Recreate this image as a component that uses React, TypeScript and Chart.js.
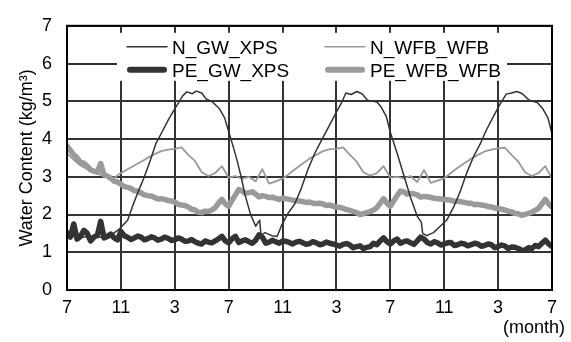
import React, { useEffect, useRef } from "react";
import { Chart, registerables } from "chart.js";

Chart.register(...registerables);

const FONT = "'Liberation Sans', Arial, Helvetica, sans-serif";

// x axis: months elapsed since the first July (0..36), ticks every 4 months
const xMin = 0;
const xMax = 36;
const tickStep = 4;
const firstMonth = 7;
const yMin = 0;
const yMax = 7;

const seriesNames = ["N_GW_XPS", "N_WFB_WFB", "PE_GW_XPS", "PE_WFB_WFB"];

// sample times (months elapsed)
const halfMonths = Array.from({ length: 73 }, (_, i) => i * 0.5);
const quarterMonths = Array.from({ length: 145 }, (_, i) => i * 0.25);

// N_GW_XPS (thin dark line), read at irregular times
const nGwXpsMonths = [
  0, 1, 2, 3, 3.9, 4.5, 4.9, 5.3, 5.7, 6.2, 6.6, 7.1, 7.6, 8.1, 8.6, 8.9, 9.3, 9.6, 10.0, 10.3,
  10.8, 11.3, 11.7, 12.0, 12.4, 12.6, 12.9, 13.2, 13.6, 14.0, 14.3, 14.4, 14.7, 15.2, 15.6, 15.9,
  16.4, 16.9, 17.4, 17.9, 18.4, 18.9, 19.4, 19.9, 20.4, 20.7, 21.1, 21.5, 21.9, 22.3, 23.0, 23.3,
  23.7, 24.0, 24.5, 25.0, 25.5, 26.0, 26.3, 26.4, 26.7, 27.2, 27.7, 28.2, 28.7, 29.2, 29.7, 30.2,
  30.7, 31.1, 31.6, 32.1, 32.6, 33.0, 33.4, 33.8, 34.3, 34.9, 35.3, 35.7, 36.0,
];
const nGwXps = [
  1.45, 1.4, 1.42, 1.38, 1.62, 1.85, 2.25, 2.62, 2.96, 3.45, 3.88, 4.22, 4.56, 4.86, 5.15, 5.25, 5.2, 5.27, 5.22, 5.07,
  4.98, 4.81, 4.56, 4.2, 3.72, 3.46, 3.04, 2.54, 2.03, 1.69, 1.85, 1.45, 1.52, 1.44, 1.42, 1.69,
  2.03, 2.28, 2.7, 3.21, 3.63, 3.97, 4.31, 4.65, 4.98, 5.22, 5.18, 5.26, 5.2, 5.03, 4.98, 4.86,
  4.6, 4.18, 3.63, 3.04, 2.45, 1.95, 1.8, 1.5, 1.44, 1.52, 1.69, 1.86, 2.2, 2.62, 3.13, 3.55,
  3.89, 4.22, 4.56, 4.9, 5.19, 5.22, 5.26, 5.2, 5.03, 4.97, 4.81, 4.56, 4.14,
];

// N_WFB_WFB (thin grey line), every half month
const nWfbWfb = [
  3.62, 3.45, 3.3, 3.2, 3.12, 3.05, 2.98, 2.97, 3.1, 3.2, 3.3, 3.4, 3.5, 3.6, 3.68, 3.72, 3.74, 3.78, 3.58, 3.42, 3.12, 3.02, 3.1, 3.28, 2.98,
  3.02, 2.95, 3.0, 2.88, 3.2, 2.82, 2.88, 2.95, 3.08, 3.22, 3.35, 3.48, 3.58, 3.68, 3.73, 3.74, 3.78, 3.58, 3.4, 3.12, 3.03, 3.1, 3.28, 2.98,
  3.0, 2.96, 3.02, 2.86, 3.18, 2.84, 2.9, 2.96, 3.1, 3.24, 3.36, 3.48, 3.58, 3.67, 3.72, 3.75, 3.77, 3.58, 3.4, 3.12, 3.02, 3.1, 3.28, 2.95,
];

// PE_GW_XPS (thick dark line), every quarter month
const peGwXps = [
  1.52, 1.4, 1.75, 1.35, 1.42, 1.58, 1.5, 1.3, 1.4, 1.45, 1.82, 1.38, 1.42, 1.48, 1.38, 1.33, 1.55, 1.44, 1.4, 1.34, 1.38, 1.43, 1.4, 1.33, 1.36,
  1.41, 1.38, 1.32, 1.35, 1.4, 1.37, 1.31, 1.33, 1.38, 1.35, 1.29, 1.3, 1.34, 1.28, 1.24, 1.22, 1.3, 1.27, 1.25, 1.3, 1.36, 1.42, 1.3, 1.25,
  1.36, 1.42, 1.26, 1.3, 1.33, 1.28, 1.24, 1.32, 1.46, 1.4, 1.24, 1.27, 1.32, 1.28, 1.24, 1.3, 1.29, 1.26, 1.22, 1.27, 1.29, 1.25, 1.21, 1.23,
  1.28, 1.25, 1.2, 1.22, 1.27, 1.24, 1.22, 1.19, 1.16, 1.21, 1.23, 1.19, 1.12, 1.15, 1.17, 1.1, 1.13, 1.15, 1.24, 1.2, 1.3, 1.38, 1.28, 1.22,
  1.3, 1.35, 1.24, 1.28, 1.3, 1.25, 1.21, 1.3, 1.4, 1.35, 1.26, 1.22, 1.28, 1.25, 1.19, 1.22, 1.25, 1.26, 1.18, 1.2, 1.24, 1.22, 1.17, 1.2,
  1.24, 1.22, 1.16, 1.18, 1.22, 1.2, 1.12, 1.15, 1.19, 1.17, 1.1, 1.14, 1.13, 1.1, 1.05, 1.06, 1.12, 1.1, 1.18, 1.15, 1.24, 1.32, 1.22, 1.15,
];

// PE_WFB_WFB (thick grey line), every quarter month
const peWfbWfb = [
  3.82, 3.7, 3.58, 3.5, 3.38, 3.36, 3.28, 3.18, 3.15, 3.12, 3.35, 3.05, 3.02, 2.96, 2.88, 2.86, 2.8, 2.74, 2.72, 2.69, 2.63, 2.62, 2.57, 2.52, 2.5,
  2.49, 2.45, 2.41, 2.42, 2.4, 2.37, 2.36, 2.33, 2.27, 2.25, 2.24, 2.2, 2.14, 2.12, 2.06, 2.05, 2.09, 2.08, 2.12, 2.18, 2.3, 2.4, 2.28, 2.22,
  2.38, 2.52, 2.66, 2.62, 2.56, 2.58, 2.6, 2.54, 2.47, 2.5, 2.48, 2.45, 2.46, 2.43, 2.4, 2.44, 2.42, 2.4, 2.38, 2.37, 2.36, 2.34, 2.32, 2.33,
  2.3, 2.29, 2.3, 2.28, 2.24, 2.25, 2.22, 2.2, 2.19, 2.16, 2.13, 2.11, 2.08, 2.05, 2.0, 2.02, 2.05, 2.08, 2.12, 2.18, 2.3, 2.42, 2.3, 2.22,
  2.36, 2.5, 2.62, 2.6, 2.54, 2.56, 2.55, 2.52, 2.46, 2.48, 2.47, 2.45, 2.43, 2.42, 2.41, 2.4, 2.39, 2.38, 2.35, 2.35, 2.34, 2.32, 2.3, 2.3,
  2.26, 2.27, 2.25, 2.24, 2.21, 2.2, 2.17, 2.16, 2.14, 2.12, 2.09, 2.07, 2.03, 2.02, 1.98, 2.0, 2.03, 2.06, 2.11, 2.16, 2.28, 2.4, 2.28, 2.2,
];

const DARK = "#333333";
const GREY = "#9a9a9a";

const toPoints = (xs: number[], ys: number[]) => ys.map((y, i) => ({ x: xs[i], y }));

const monthLabel = (v: number) => String(((firstMonth - 1 + v) % 12) + 1);

const legendItems = [
  { name: seriesNames[0], color: DARK, width: 1.5, col: 0, row: 0 },
  { name: seriesNames[1], color: GREY, width: 1.5, col: 1, row: 0 },
  { name: seriesNames[2], color: DARK, width: 6, col: 0, row: 1 },
  { name: seriesNames[3], color: GREY, width: 6, col: 1, row: 1 },
];

const overlayPlugin = {
  id: "overlay",
  afterDraw(chart: any) {
    const ctx = chart.ctx as CanvasRenderingContext2D;
    const a = chart.chartArea;
    ctx.save();
    // frame
    ctx.strokeStyle = "#000";
    ctx.lineWidth = 2;
    ctx.strokeRect(a.left, a.top, a.right - a.left, a.bottom - a.top);
    // legend box
    const bx = a.left + 50;
    const by = a.top + 7;
    ctx.fillStyle = "#fff";
    ctx.fillRect(bx, by, 390, 48);
    ctx.font = `19px ${FONT}`;
    ctx.textBaseline = "middle";
    ctx.textAlign = "left";
    for (const it of legendItems) {
      const x0 = bx + 10 + it.col * 198;
      const y0 = by + 14 + it.row * 23;
      ctx.strokeStyle = it.color;
      ctx.lineWidth = it.width;
      ctx.lineCap = "round";
      ctx.beginPath();
      ctx.moveTo(x0 + (it.width > 2 ? 3 : 0), y0);
      ctx.lineTo(x0 + 40 - (it.width > 2 ? 3 : 0), y0);
      ctx.stroke();
      ctx.fillStyle = "#000";
      ctx.fillText(it.name, x0 + 45, y0 + 2);
    }
    // unit label
    ctx.font = `18px ${FONT}`;
    ctx.textAlign = "right";
    ctx.textBaseline = "alphabetic";
    ctx.fillStyle = "#000";
    ctx.fillText("(month)", a.right + 13, a.bottom + 43);
    ctx.restore();
  },
};

export default function App() {
  const ref = useRef<HTMLCanvasElement | null>(null);
  useEffect(() => {
    document.body.style.margin = "0";
    const canvas = ref.current!;
    const chart = new Chart(canvas, {
      type: "line",
      data: {
        datasets: [
          {
            label: seriesNames[0],
            data: toPoints(nGwXpsMonths, nGwXps),
            borderColor: DARK,
            borderWidth: 1.5,
            pointRadius: 0,
          },
          {
            label: seriesNames[1],
            data: toPoints(halfMonths, nWfbWfb),
            borderColor: GREY,
            borderWidth: 1.8,
            pointRadius: 0,
          },
          {
            label: seriesNames[2],
            data: toPoints(quarterMonths, peGwXps),
            borderColor: DARK,
            borderWidth: 5.5,
            pointRadius: 0,
          },
          {
            label: seriesNames[3],
            data: toPoints(quarterMonths, peWfbWfb),
            borderColor: GREY,
            borderWidth: 5.5,
            pointRadius: 0,
          },
        ],
      },
      options: {
        responsive: false,
        animation: false,
        events: [],
        layout: { padding: { top: 13, right: 19, left: 0, bottom: 0 } },
        plugins: { legend: { display: false }, tooltip: { enabled: false }, title: { display: false } },
        elements: { line: { tension: 0, borderJoinStyle: "round", borderCapStyle: "round" } },
        scales: {
          x: {
            type: "linear",
            min: xMin,
            max: xMax,
            afterFit: (s: any) => {
              s.height = 52;
            },
            afterBuildTicks: (s: any) => {
              const t = [];
              for (let v = xMin; v <= xMax; v += tickStep) t.push({ value: v });
              s.ticks = t;
            },
            ticks: {
              callback: (v: any) => monthLabel(Number(v)),
              color: "#000",
              font: { family: FONT, size: 18 },
              padding: 7,
              maxRotation: 0,
              autoSkip: false,
            },
            grid: { color: "#333", lineWidth: 2, drawTicks: false },
            border: { display: true, color: "#000", width: 2 },
          },
          y: {
            type: "linear",
            min: yMin,
            max: yMax,
            afterFit: (s: any) => {
              s.width = 67;
            },
            ticks: {
              stepSize: 1,
              color: "#000",
              font: { family: FONT, size: 18 },
              padding: 15,
            },
            grid: { color: "#333", lineWidth: 2, drawTicks: false },
            border: { display: true, color: "#000", width: 2 },
            title: {
              display: true,
              text: "Water Content (kg/m³)",
              color: "#000",
              font: { family: FONT, size: 18 },
              padding: { top: 16, bottom: 0 },
            },
          },
        },
      },
      plugins: [overlayPlugin],
    } as any);
    return () => chart.destroy();
  }, []);
  return (
    <div style={{ position: "relative", width: 571, height: 342 }}>
      <canvas ref={ref} width={571} height={342} style={{ width: 571, height: 342, display: "block" }} />
    </div>
  );
}
